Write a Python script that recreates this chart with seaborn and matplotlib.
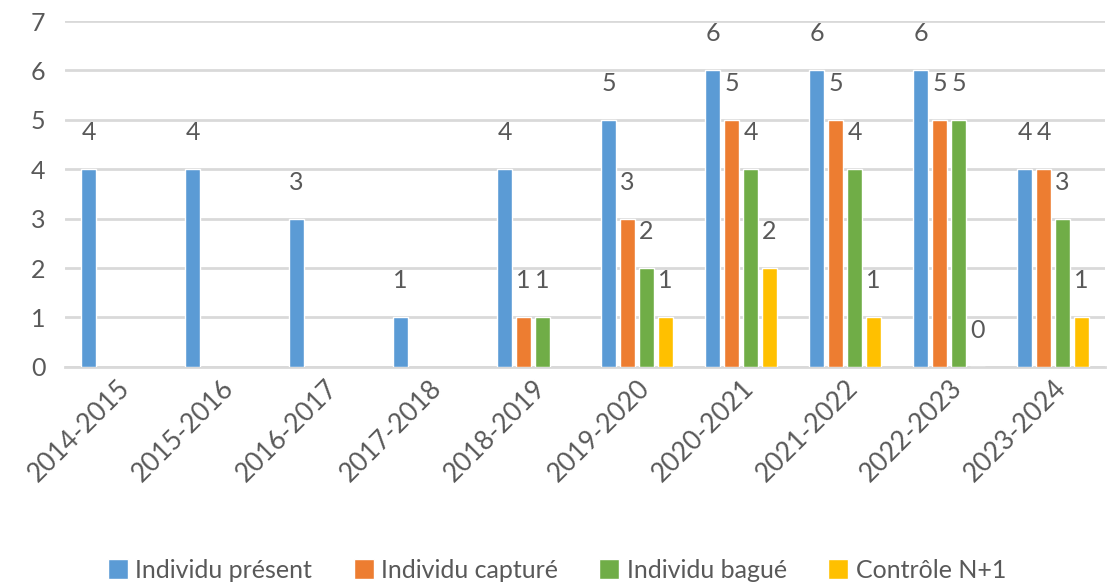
import matplotlib
matplotlib.use('Agg')
import numpy as np
import pandas as pd
import seaborn as sns
import matplotlib.pyplot as plt

# Data
saisons = ['2014-2015', '2015-2016', '2016-2017', '2017-2018', '2018-2019',
           '2019-2020', '2020-2021', '2021-2022', '2022-2023', '2023-2024']
present = [4, 4, 3, 1, 4, 5, 6, 6, 6, 4]
capture = [np.nan, np.nan, np.nan, np.nan, 1, 3, 5, 5, 5, 4]
bague = [np.nan, np.nan, np.nan, np.nan, 1, 2, 4, 4, 5, 3]
controle = [np.nan, np.nan, np.nan, np.nan, np.nan, 1, 2, 1, 0, 1]
series = ['Individu présent', 'Individu capturé', 'Individu bagué', 'Contrôle N+1']
colors = ['#5B9BD5', '#ED7D31', '#70AD47', '#FFC000']

# Long format table for seaborn
df = pd.DataFrame({'saison': saisons * 4,
                   'serie': np.repeat(series, len(saisons)),
                   'valeur': present + capture + bague + controle})

sns.set_theme(style='white')
plt.rcParams['font.family'] = ['Lato', 'DejaVu Sans']
text_color = '#595959'
grid_color = '#D9D9D9'

fig = plt.figure(figsize=(11.14, 5.86), dpi=100)
ax = fig.add_axes([0.0584, 0.374, 0.9336, 0.590])

sns.barplot(data=df, x='saison', y='valeur', hue='serie', order=saisons,
            hue_order=series, palette=colors, saturation=1, width=0.73, gap=0.2,
            errorbar=None, ax=ax, legend=True, zorder=3)

# Value labels above each bar
for cont in ax.containers:
    ax.bar_label(cont, fmt='%d', padding=18, fontsize=18, color=text_color)

ax.set_ylim(0, 7)
ax.set_yticks(range(0, 8))
ax.yaxis.grid(True, color=grid_color, linewidth=2, zorder=0)
ax.set_axisbelow(True)
ax.set_xlabel('')
ax.set_ylabel('')
for side in ['left', 'right', 'top']:
    ax.spines[side].set_visible(False)
ax.spines['bottom'].set_color(grid_color)
ax.spines['bottom'].set_linewidth(2)
ax.tick_params(axis='both', length=0, labelsize=18, labelcolor=text_color)
ax.tick_params(axis='y', pad=14)
ax.tick_params(axis='x', labelsize=19, pad=6)
plt.setp(ax.get_xticklabels(), rotation=45, ha='right', rotation_mode='anchor')

# Legend at the bottom
handles, labels = ax.get_legend_handles_labels()
ax.legend_.remove()
fig.legend(handles, labels, loc='center', bbox_to_anchor=(0.5, 0.027), ncol=4,
           frameon=False, fontsize=18, labelcolor=text_color, handlelength=0.8,
           handleheight=0.8, handletextpad=0.3, columnspacing=1.65)

plt.savefig('out.png', dpi=100)
